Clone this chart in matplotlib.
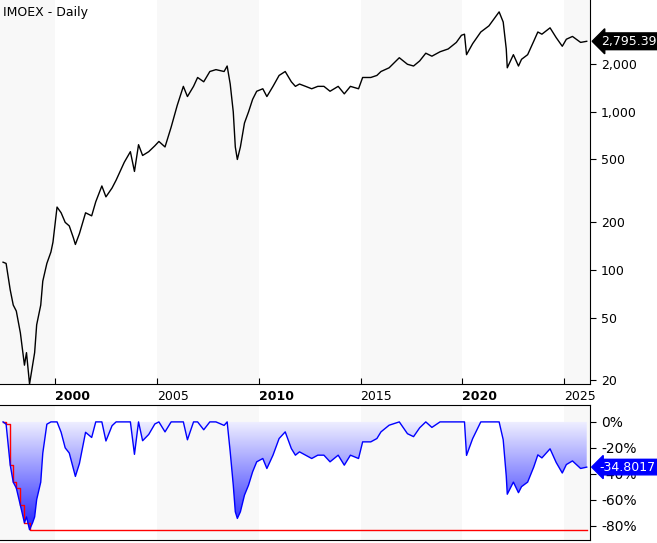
import numpy as np
import matplotlib
matplotlib.use("Agg")
import matplotlib.pyplot as plt
from matplotlib.ticker import FixedLocator, FuncFormatter

# IMOEX daily close (year fraction, index level)
years = [1997.45, 1997.6, 1997.8, 1997.95, 1998.1, 1998.3, 1998.5, 1998.6, 1998.75, 1998.9,
         1999.0, 1999.1, 1999.3, 1999.4, 1999.6, 1999.8, 1999.9, 2000.1, 2000.3, 2000.5,
         2000.7, 2000.9, 2001.0, 2001.2, 2001.5, 2001.8, 2002.0, 2002.3, 2002.5, 2002.8,
         2003.0, 2003.4, 2003.7, 2003.9, 2004.1, 2004.3, 2004.6, 2004.9, 2005.1, 2005.4,
         2005.7, 2006.0, 2006.3, 2006.5, 2006.8, 2007.0, 2007.3, 2007.6, 2007.9, 2008.3,
         2008.45, 2008.6, 2008.75, 2008.85, 2008.95, 2009.1, 2009.3, 2009.5, 2009.7, 2009.9,
         2010.2, 2010.4, 2010.7, 2011.0, 2011.3, 2011.6, 2011.8, 2012.0, 2012.3, 2012.6,
         2012.9, 2013.2, 2013.5, 2013.9, 2014.2, 2014.5, 2014.9, 2015.1, 2015.5, 2015.8,
         2016.0, 2016.4, 2016.9, 2017.3, 2017.6, 2017.9, 2018.2, 2018.5, 2018.9, 2019.3,
         2019.7, 2019.95, 2020.1, 2020.2, 2020.5, 2020.9, 2021.3, 2021.8, 2022.0, 2022.15,
         2022.2, 2022.5, 2022.75, 2022.9, 2023.2, 2023.5, 2023.7, 2023.9, 2024.3, 2024.6,
         2024.9, 2025.1, 2025.4, 2025.8, 2026.1]
prices = [112, 110, 75, 60, 55, 40, 25, 30, 19, 25,
          30, 45, 60, 85, 110, 130, 150, 250, 230, 200,
          190, 160, 145, 170, 230, 220, 270, 340, 290, 330,
          370, 480, 560, 420, 620, 530, 560, 610, 650, 600,
          800, 1100, 1450, 1250, 1450, 1650, 1550, 1800, 1850, 1800,
          1950, 1500, 1000, 600, 500, 600, 850, 1000, 1200, 1350,
          1400, 1250, 1450, 1700, 1800, 1550, 1450, 1500, 1450, 1400,
          1450, 1450, 1350, 1450, 1300, 1450, 1400, 1650, 1650, 1700,
          1800, 1900, 2200, 2000, 1950, 2100, 2350, 2250, 2400, 2500,
          2750, 3050, 3100, 2300, 2700, 3200, 3500, 4290, 3700, 2500,
          1900, 2300, 1950, 2150, 2300, 2800, 3200, 3100, 3400, 2950,
          2600, 2880, 3000, 2750, 2795]
price_ticks = [20, 50, 100, 200, 500, 1000, 2000]
year_ticks = [2000, 2005, 2010, 2015, 2020, 2025]
dd_ticks = [0, -20, -40, -60, -80]
last_price = 2795.39
last_dd = -34.8017

x = np.array(years)
p = np.array(prices, dtype=float)
dd = (p / np.maximum.accumulate(p) - 1) * 100
maxdd = np.minimum.accumulate(dd)

fig = plt.figure(figsize=(6.57, 5.43), dpi=100)
x0, x1 = 1997.30, 2026.26
ax = fig.add_axes([0, 0.2928, 0.898, 0.7072])
ax2 = fig.add_axes([0, 0.0055, 0.898, 0.2486])

for a in (ax, ax2):
    for y0, y1 in [(1990, 2000), (2005, 2010), (2015, 2020), (2025, 2030)]:
        a.axvspan(y0, y1, color="#f8f8f8", lw=0, zorder=0)
    a.set_xlim(x0, x1)
    for s in ("left", "top"):
        a.spines[s].set_visible(False)

# price panel
ax.plot(x, p, color="black", lw=1)
ax.set_yscale("log")
ax.set_ylim(19, 5100)
ax.yaxis.tick_right()
ax.yaxis.set_major_locator(FixedLocator(price_ticks))
ax.yaxis.set_minor_locator(FixedLocator([]))
ax.yaxis.set_major_formatter(FuncFormatter(lambda v, _: f"{v:,.0f}"))
ax.tick_params(axis="y", labelsize=9, length=4, pad=4)
ax.set_xticks(year_ticks)
ax.set_xticklabels([str(y) for y in year_ticks])
ax.tick_params(axis="x", direction="in", length=4, labelsize=9, pad=4)
for i, lab in enumerate(ax.get_xticklabels()):
    lab.set_ha("left")
    if year_ticks[i] % 10 == 0:
        lab.set_fontweight("bold")
ax.text(0.005, 0.985, "IMOEX - Daily", transform=ax.transAxes, fontsize=9, va="top")
ax.annotate(f"{last_price:,.2f}", xy=(1.0, last_price), xycoords=("axes fraction", "data"),
            xytext=(8, 0), textcoords="offset points", va="center", fontsize=9, color="white",
            bbox=dict(boxstyle="larrow,pad=0.15", fc="black", ec="black"), annotation_clip=False)

# drawdown panel
ax2.set_ylim(-91, 13)
ax2.spines["top"].set_visible(True)
grad = np.linspace(0, 1, 256).reshape(-1, 1)
cmap = matplotlib.colors.LinearSegmentedColormap.from_list("g", ["#f0f0ff", "#2020ff"])
im = ax2.imshow(grad, cmap=cmap, extent=[x0, x1, 0, -85], aspect="auto", origin="lower", zorder=1)
poly = ax2.fill_between(x, dd, 0, color="none")
im.set_clip_path(poly.get_paths()[0], transform=ax2.transData)
ax2.plot(x, dd, color="blue", lw=1, zorder=3)
ax2.step(x, maxdd, where="post", color="red", lw=1, zorder=2)
ax2.set_xlim(x0, x1)
ax2.set_xticks([])
ax2.yaxis.tick_right()
ax2.set_yticks(dd_ticks)
ax2.yaxis.set_major_formatter(FuncFormatter(lambda v, _: f"{v:.0f}%"))
ax2.tick_params(axis="y", labelsize=10, length=4, pad=4)
ax2.annotate(f"{last_dd:.4f}", xy=(1.0, last_dd), xycoords=("axes fraction", "data"),
             xytext=(7, 0), textcoords="offset points", va="center", fontsize=9, color="white",
             bbox=dict(boxstyle="larrow,pad=0.1", fc="blue", ec="blue"), annotation_clip=False)

fig.savefig("out.png", dpi=100)
